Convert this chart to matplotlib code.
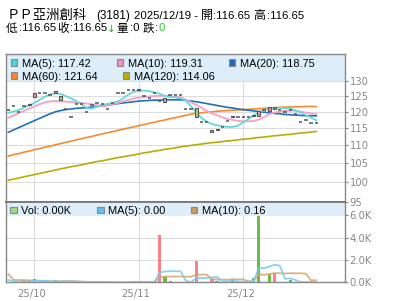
import matplotlib
matplotlib.use("Agg")
import matplotlib.pyplot as plt
import matplotlib.transforms as mtransforms
from matplotlib.patches import Rectangle
from matplotlib.ticker import NullLocator
import numpy as np
import pandas as pd

# ---- datos ----
closes = [120.5, 121.8, 120.0, 121.8, 122.4, 126.0, 125.9, 125.9, 125.5, 126.8,
          123.7, 120.9, 118.4, 122.6, 122.6, 120.1, 122.3, 122.9, 122.6, 120.8,
          122.8, 126.0, 126.0, 127.0, 127.0, 127.3, 125.0, 124.5, 125.9, 123.3,
          124.4, 125.2, 125.2, 125.2, 121.0, 121.0, 118.4, 116.9, 116.9, 114.4,
          114.9, 115.5, 117.3, 118.7, 118.4, 118.4, 118.4, 119.1, 120.2, 120.5,
          121.4, 120.9, 120.5, 120.1, 120.7, 119.2, 116.9, 117.4, 116.65, 116.65]
# aperturas distintas del cierre (el resto son dias planos)
open_diff = {4: 122.1, 5: 124.8, 9: 126.0, 10: 124.9, 25: 126.9, 30: 123.0,
             36: 121.1, 39: 114.0, 40: 114.5, 43: 118.3, 47: 118.7, 48: 118.8,
             50: 120.4, 51: 121.4}

ma5 = [119.7, 120.1, 120.6, 121.3, 122.0, 122.8, 123.8, 124.8, 125.6, 125.9,
       125.7, 125.0, 124.3, 123.4, 122.5, 121.2, 121.0, 121.7, 122.2, 122.5,
       122.8, 123.3, 124.3, 125.5, 126.4, 126.7, 126.8, 126.6, 126.2, 125.8,
       125.0, 124.7, 124.6, 124.3, 123.5, 121.8, 119.8, 118.2, 117.0, 116.3,
       115.9, 115.6, 115.4, 115.4, 115.8, 116.8, 117.8, 118.9, 119.8, 120.6,
       121.0, 121.2, 121.2, 121.2, 121.0, 120.5, 119.8, 119.0, 118.2, 117.42]
ma10 = [118.2, 118.9, 119.6, 120.3, 121.0, 121.7, 122.4, 123.0, 123.3, 123.4,
        123.3, 123.2, 123.1, 122.9, 122.8, 122.6, 122.4, 122.1, 121.8, 121.9,
        122.3, 122.8, 123.3, 123.8, 124.2, 124.5, 124.7, 124.9, 125.0, 125.1,
        125.1, 125.0, 124.8, 124.5, 123.9, 123.0, 122.2, 121.3, 120.3, 119.5,
        118.9, 118.3, 117.8, 117.5, 117.2, 117.1, 117.1, 117.2, 117.6, 118.4,
        119.3, 119.8, 120.1, 120.3, 120.4, 120.3, 120.1, 119.8, 119.5, 119.31]
ma20 = [113.8, 114.5, 115.2, 115.9, 116.6, 117.3, 118.0, 118.7, 119.4, 120.0,
        120.4, 120.7, 120.9, 121.1, 121.2, 121.3, 121.5, 121.7, 121.9, 122.1,
        122.3, 122.6, 122.8, 123.0, 123.2, 123.4, 123.5, 123.6, 123.7, 123.7,
        123.8, 123.8, 123.8, 123.8, 123.6, 123.4, 123.2, 122.9, 122.6, 122.3,
        122.0, 121.7, 121.4, 121.2, 120.9, 120.7, 120.5, 120.3, 120.1, 119.9,
        119.7, 119.5, 119.4, 119.2, 119.1, 119.0, 118.9, 118.8, 118.8, 118.75]
ma60 = [107.0, 107.4, 107.7, 108.1, 108.4, 108.8, 109.1, 109.5, 109.8, 110.2,
        110.5, 110.9, 111.2, 111.6, 111.9, 112.3, 112.6, 113.0, 113.3, 113.7,
        114.0, 114.4, 114.7, 115.1, 115.4, 115.8, 116.1, 116.5, 116.8, 117.2,
        117.5, 117.9, 118.2, 118.6, 118.9, 119.3, 119.6, 119.7, 119.9, 120.0,
        120.2, 120.3, 120.4, 120.5, 120.6, 120.7, 120.8, 120.9, 121.0, 121.1,
        121.2, 121.3, 121.4, 121.5, 121.5, 121.6, 121.6, 121.7, 121.7, 121.64]
ma120 = [100.5, 100.8, 101.1, 101.4, 101.7, 102.0, 102.3, 102.6, 102.9, 103.2,
         103.5, 103.8, 104.1, 104.3, 104.6, 104.9, 105.2, 105.5, 105.7, 106.0,
         106.3, 106.6, 106.8, 107.1, 107.3, 107.6, 107.9, 108.1, 108.4, 108.6,
         108.9, 109.1, 109.3, 109.6, 109.8, 110.0, 110.2, 110.4, 110.6, 110.8,
         110.9, 111.1, 111.3, 111.4, 111.6, 111.8, 111.9, 112.1, 112.3, 112.4,
         112.6, 112.8, 112.9, 113.1, 113.2, 113.4, 113.6, 113.7, 113.9, 114.06]

# volumen en miles (K); vol_before son los dias previos para las medias
vol_before = [5.0, 0.3, 0.2, 0.5, 0.3, 0.4, 0.3, 0.2, 0.1]
vol = [0, 0, 0, 0.2, 0.2, 0.3, 0, 0, 0, 0.2,
       0.1, 0.1, 0, 0, 0, 0, 0, 0, 0, 0,
       0, 0, 0, 0, 0.1, 0.1, 0, 0, 0, 4.25,
       0.6, 0.1, 0, 0, 0, 0, 1.9, 0, 0, 0.3,
       0.15, 0, 0, 0.3, 0, 0, 0, 0.35, 5.95, 0,
       0.72, 0.82, 0, 0, 0.2, 0, 0, 0, 0, 0]
vol_red_days = [10, 11, 24, 29, 36, 39, 51]

tick_pos = [5, 25, 45]
tick_labels = ["25/10", "25/11", "25/12"]
price_ticks = [95, 100, 105, 110, 115, 120, 125, 130]

W, H = 400, 301


def fx(px):
    return px / W


def fy(py):
    return 1 - py / H


CJK = ["Noto Sans CJK TC", "DejaVu Sans"]
LAT = "Liberation Sans"
GRAY = "#888888"

fig = plt.figure(figsize=(4, 3.01), dpi=100)
ax = fig.add_axes([fx(5.5), fy(202), fx(345) - fx(5.5), fy(54.3) - fy(202)])
axv = fig.add_axes([fx(5.5), fy(282.3), fx(345) - fx(5.5), fy(202) - fy(282.3)])

x = np.arange(len(closes))
c = np.array(closes)
o = c.copy()
for k, v in open_diff.items():
    o[k] = v

# medias moviles
ax.plot(x, ma120, color="#b8ad00", lw=1.2, zorder=2)
ax.plot(x, ma60, color="#f78b2e", lw=1.2, zorder=2)
ax.plot(x, ma20, color="#1f6fc0", lw=1.2, zorder=2)
ax.plot(x, ma10, color="#f5a0c8", lw=1.3, zorder=2)
ax.plot(x, ma5, color="#62dada", lw=1.3, zorder=2)

# velas
flat = o == c
up = c > o
dn = c < o
ax.hlines(c[flat], x[flat] - 0.32, x[flat] + 0.32, color="#555555", lw=1.1, zorder=3)
ax.bar(x[up], c[up] - o[up], bottom=o[up], width=0.6, color="#f39a9a",
       edgecolor="#555555", lw=0.8, zorder=3)
ax.bar(x[dn], o[dn] - c[dn], bottom=c[dn], width=0.6, color="#a4d67e",
       edgecolor="#555555", lw=0.8, zorder=3)

ax.set_yscale("log")
ax.set_ylim(95, 139.3)
ax.set_xlim(-0.54, 64.5)
ax.set_yticks(price_ticks)
ax.set_yticklabels([str(t) for t in price_ticks])
ax.yaxis.set_minor_locator(NullLocator())
ax.yaxis.tick_right()
ax.set_xticks(tick_pos)
ax.tick_params(axis="x", bottom=False, labelbottom=False)
ax.tick_params(axis="y", direction="out", length=2, width=0.8, color=GRAY,
               labelcolor=GRAY, labelsize=7.2, pad=1.2)
ax.grid(True, color="#dcdcdc", lw=0.8)
for s in ax.spines.values():
    s.set_color(GRAY)
    s.set_linewidth(1.0)
ax.spines["bottom"].set_color("#777777")
ax.spines["bottom"].set_linewidth(1.3)

band_main = (202 - 81) / (202 - 54.3)
ax.add_patch(Rectangle((0, band_main), 1, 1 - band_main, transform=ax.transAxes,
                       facecolor="#ddeefa", edgecolor="none", zorder=2.4))

# volumen
vcol = ["#f7848a" if i in vol_red_days else "#6bbb47" for i in range(len(vol))]
axv.bar(x, vol, width=0.62, color=vcol, zorder=2)
vol_all = pd.Series(vol_before + vol)
vma5 = vol_all.rolling(5).mean().to_numpy()[len(vol_before):]
vma10 = vol_all.rolling(10).mean().to_numpy()[len(vol_before):]
axv.plot(x, vma10, color="#d4a670", lw=1.3, alpha=0.85, zorder=3)
axv.plot(x, vma5, color="#74cbf0", lw=1.3, alpha=0.85, zorder=3)

axv.set_xlim(-0.54, 64.5)
axv.set_ylim(0, 7.17)
axv.set_yticks([0, 2, 4, 6])
axv.set_yticklabels(["0.0K", "2.0K", "4.0K", "6.0K"])
axv.yaxis.tick_right()
axv.set_xticks(tick_pos)
axv.set_xticklabels(tick_labels)
axv.tick_params(axis="y", direction="out", length=2, width=0.8, color=GRAY,
                labelcolor=GRAY, labelsize=7.2, pad=1.2)
axv.tick_params(axis="x", length=0, labelcolor=GRAY, labelsize=7.2, pad=5)
shift = mtransforms.ScaledTranslation(-3 / 100, 0, fig.dpi_scale_trans)
for lbl in axv.get_xticklabels():
    lbl.set_transform(lbl.get_transform() + shift)
axv.grid(True, color="#dcdcdc", lw=0.8)
for s in axv.spines.values():
    s.set_color(GRAY)
    s.set_linewidth(1.0)
axv.spines["top"].set_color("#777777")
axv.spines["top"].set_linewidth(1.3)

band_vol = 1 - (215.5 - 202) / (282.3 - 202)
axv.add_patch(Rectangle((0, band_vol), 1, 1 - band_vol, transform=axv.transAxes,
                        facecolor="#ddeefa", edgecolor="none", zorder=2.4))


# leyendas
def legend_item(px, py, color, label):
    fig.add_artist(Rectangle((fx(px), fy(py + 6.7)), 6.7 / W, 6.7 / H,
                             transform=fig.transFigure, facecolor=color,
                             edgecolor=GRAY, lw=0.8, zorder=4))
    fig.text(fx(px + 11), fy(py + 7.7), label, family=LAT, fontsize=7.9,
             va="baseline", ha="left", zorder=4)


legend_item(10.7, 59, "#4fd3d3", "MA(5): 117.42")
legend_item(116.7, 59, "#f48fc0", "MA(10): 119.31")
legend_item(228.7, 59, "#1f6bbd", "MA(20): 118.75")
legend_item(10.7, 72.3, "#f7852a", "MA(60): 121.64")
legend_item(122.7, 72.3, "#b8b000", "MA(120): 114.06")
legend_item(10.0, 206.7, "#9edb7e", "Vol: 0.00K")
legend_item(97.3, 206.7, "#5ec0ee", "MA(5): 0.00")
legend_item(190.7, 206.7, "#cc9a5e", "MA(10): 0.16")

# titulo
title_parts = [
    (6.5, 19.0, "ＰＰ亞洲創科", CJK, 9.6, "black"),
    (96, 19.3, "(3181)", LAT, 8.4, "black"),
    (134.3, 19.3, "2025/12/19 -", LAT, 8.2, "black"),
    (200.5, 19.0, "開", CJK, 8.6, "black"),
    (213.5, 19.3, ":116.65", LAT, 8.2, "black"),
    (253.5, 19.0, "高", CJK, 8.6, "black"),
    (266.5, 19.3, ":116.65", LAT, 8.2, "black"),
    (5.5, 31.6, "低", CJK, 8.4, "black"),
    (18.5, 31.2, ":116.65", LAT, 8.2, "black"),
    (56.8, 31.6, "收", CJK, 8.4, "black"),
    (69.8, 31.2, ":116.65", LAT, 8.2, "black"),
    (106.5, 31.8, "↓", ["DejaVu Sans"], 7.5, "#22aa22"),
    (116.8, 31.6, "量", CJK, 8.4, "black"),
    (129.8, 31.2, ":0", LAT, 8.2, "black"),
    (142.2, 31.6, "跌", CJK, 8.4, "black"),
    (155.2, 31.2, ":", LAT, 8.2, "black"),
    (158.3, 31.2, "0", LAT, 8.2, "#33cc33"),
]
for px, py, txt, fam, size, col in title_parts:
    fig.text(fx(px), fy(py), txt, family=fam, fontsize=size, color=col,
             va="baseline", ha="left")

fig.savefig("out.png", dpi=100)
